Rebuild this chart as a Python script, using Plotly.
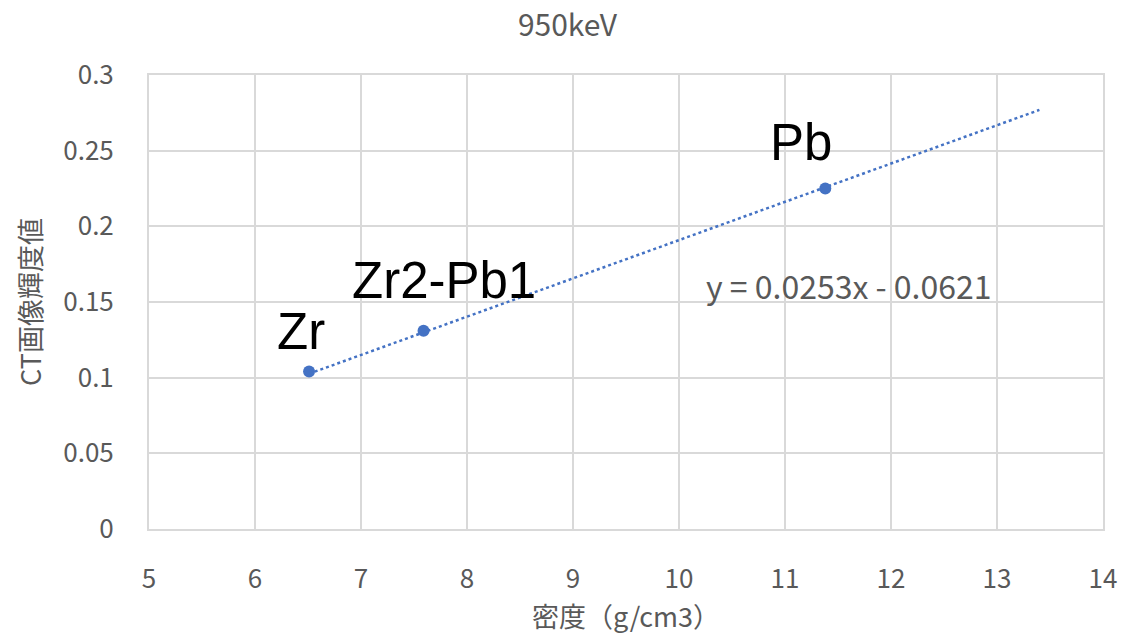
import plotly.graph_objects as go

# Data
labels = ["Zr", "Zr2-Pb1", "Pb"]
density = [6.51, 7.59, 11.38]
ct_value = [0.104, 0.131, 0.225]

# Trendline (as displayed in the chart)
trend_slope = 0.0253
trend_intercept = -0.0621
trend_x = [6.51, 13.4]
trend_eq = "y = 0.0253x - 0.0621"

x_ticks = [5, 6, 7, 8, 9, 10, 11, 12, 13, 14]
y_ticks = [0, 0.05, 0.1, 0.15, 0.2, 0.25, 0.3]
y_tick_text = ["0", "0.05", "0.1", "0.15", "0.2", "0.25", "0.3"]

# label offsets in pixels (dx, dy)
label_shift = [(-8, 40), (20, 50), (-24, 46)]

GRAY = "#595959"
GRID = "#d9d9d9"
BLUE = "#4472C4"
FONT = "Noto Sans CJK JP"

trend_y = [trend_slope * x + trend_intercept for x in trend_x]

fig = go.Figure()
fig.add_trace(go.Scatter(
    x=trend_x, y=trend_y, mode="lines",
    line=dict(color=BLUE, width=2.5, dash="dot"),
    hoverinfo="skip", showlegend=False,
))
fig.add_trace(go.Scatter(
    x=density, y=ct_value, mode="markers",
    marker=dict(color=BLUE, size=12),
    showlegend=False,
))

for lab, xv, yv, (dx, dy) in zip(labels, density, ct_value, label_shift):
    fig.add_annotation(
        x=xv, y=yv, text=lab, showarrow=False,
        xshift=dx, yshift=dy,
        font=dict(family="Liberation Sans", size=51, color="#000000"),
    )

fig.add_annotation(
    x=11.6, y=0.161, text=trend_eq, showarrow=False,
    font=dict(family=FONT, size=32, color=GRAY),
)

fig.update_layout(
    width=1135, height=640,
    margin=dict(l=149, r=32, t=75, b=108),
    paper_bgcolor="white", plot_bgcolor="white",
    title=dict(text="950keV", x=0.5, xanchor="center", y=1 - 25 / 640, yanchor="middle",
               font=dict(family=FONT, size=30, color=GRAY)),
    font=dict(family=FONT, color=GRAY),
)
fig.update_xaxes(
    range=[5, 14], tickvals=x_ticks, ticktext=[str(v) for v in x_ticks],
    showgrid=True, gridcolor=GRID, gridwidth=2,
    showline=True, linecolor=GRID, linewidth=2, mirror=True,
    zeroline=False, ticks="", ticklabelstandoff=26,
    tickfont=dict(family=FONT, size=26, color=GRAY),
    title=dict(text="密度（g/cm3）", font=dict(family=FONT, size=27, color=GRAY), standoff=14),
)
fig.update_yaxes(
    range=[0, 0.3], tickvals=y_ticks, ticktext=y_tick_text,
    showgrid=True, gridcolor=GRID, gridwidth=2,
    showline=True, linecolor=GRID, linewidth=2, mirror=True,
    zeroline=False, ticks="", ticklabelstandoff=28,
    tickfont=dict(family=FONT, size=26, color=GRAY),
    title=dict(text="CT画像輝度値", font=dict(family=FONT, size=27, color=GRAY), standoff=14),
)

fig.write_html("out.html")
